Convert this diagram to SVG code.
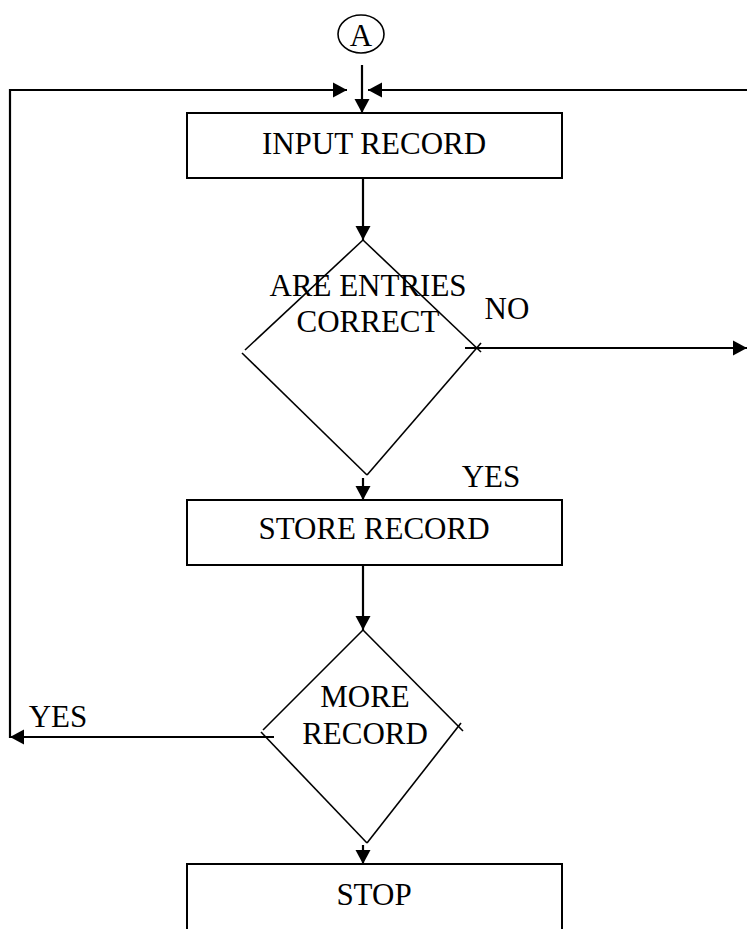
<svg xmlns="http://www.w3.org/2000/svg" width="747" height="929" viewBox="0 0 747 929">
<style>
.box{fill:#fff;stroke:#000;stroke-width:2}
.dia{fill:none;stroke:#000;stroke-width:1.6}
.con{fill:none;stroke:#000;stroke-width:2.2}
text{font-family:"Liberation Serif","Times New Roman",serif;font-size:31px;fill:#000;text-anchor:middle}
</style>
<defs>
<marker id="ah" markerUnits="userSpaceOnUse" markerWidth="16" markerHeight="16" refX="14" refY="7.5" orient="auto" overflow="visible">
<path d="M0,0 L14,7.5 L0,15 z" fill="#000"/>
</marker>
</defs>
<rect width="747" height="929" fill="#fff"/>
<g id="connectors">
<line class="con" x1="362" y1="65" x2="362" y2="113" marker-end="url(#ah)"/>
<polyline class="con" points="10,738 10,90 347,90" marker-end="url(#ah)"/>
<line class="con" x1="747" y1="90" x2="368" y2="90" marker-end="url(#ah)"/>
<line class="con" x1="363" y1="178" x2="363" y2="240" marker-end="url(#ah)"/>
<line class="con" x1="465" y1="348" x2="747" y2="348" marker-end="url(#ah)"/>
<line class="con" x1="363" y1="478" x2="363" y2="500" marker-end="url(#ah)"/>
<line class="con" x1="363" y1="565" x2="363" y2="630" marker-end="url(#ah)"/>
<line class="con" x1="274" y1="737" x2="10" y2="737" marker-end="url(#ah)"/>
<line class="con" x1="363" y1="845" x2="363" y2="864" marker-end="url(#ah)"/>
</g>
<g id="connector-A">
<ellipse cx="361" cy="34" rx="23" ry="19" fill="#fff" stroke="#000" stroke-width="1.6"/>
<text x="361" y="46" font-size="30">A</text>
</g>
<g id="input-record">
<rect class="box" x="187" y="113" width="375" height="65"/>
<text x="374" y="154">INPUT RECORD</text>
</g>
<g id="decision-entries">
<line class="dia" x1="363" y1="240" x2="245" y2="350"/>
<line class="dia" x1="242" y1="353" x2="367" y2="475"/>
<line class="dia" x1="363" y1="240" x2="481" y2="352"/>
<line class="dia" x1="481" y1="343" x2="367" y2="475"/>
<text x="368" y="296">ARE ENTRIES</text>
<text x="368" y="332">CORRECT</text>
<text x="507" y="319">NO</text>
<text x="491" y="487">YES</text>
</g>
<g id="store-record">
<rect class="box" x="187" y="500" width="375" height="65"/>
<text x="374" y="539">STORE RECORD</text>
</g>
<g id="decision-more">
<line class="dia" x1="363" y1="630" x2="263" y2="730"/>
<line class="dia" x1="261" y1="732" x2="367" y2="843"/>
<line class="dia" x1="363" y1="630" x2="463" y2="731"/>
<line class="dia" x1="461" y1="723" x2="367" y2="843"/>
<text x="365" y="707">MORE</text>
<text x="365" y="744">RECORD</text>
<text x="58" y="727">YES</text>
</g>
<g id="stop">
<rect class="box" x="187" y="864" width="375" height="75"/>
<text x="374" y="905">STOP</text>
</g>
</svg>
